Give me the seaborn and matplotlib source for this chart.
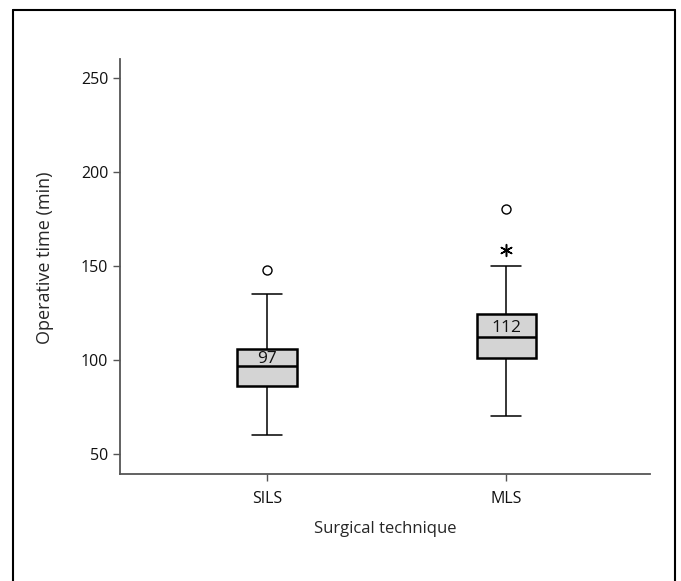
import numpy as np
import pandas as pd
import matplotlib
matplotlib.use("Agg")
import matplotlib.pyplot as plt
from matplotlib.lines import Line2D
import seaborn as sns

# data
techniques = ["SILS", "MLS"]
# sorted samples chosen so quartiles / whisker ends match the picture
sils_times = [60, 80, 86, 90, 97, 100, 106, 120, 135]
mls_times = [70, 95, 101, 105, 112, 118, 124.5, 140, 150]
# outliers drawn separately (SPSS style)
circle_group = ["SILS", "MLS"]
circle_times = [148, 180]
star_group = ["MLS"]
star_times = [158.5]

sns.set_style("white")
plt.rcParams["font.family"] = ["Open Sans", "DejaVu Sans"]

df = pd.DataFrame({
    "technique": ["SILS"] * len(sils_times) + ["MLS"] * len(mls_times),
    "time": sils_times + mls_times,
})

fig = plt.figure(figsize=(6.81, 5.81), dpi=100)
ax = fig.add_axes([120 / 681, 1 - 474 / 581, 530 / 681, 415 / 581])

sns.boxplot(data=df, x="technique", y="time", order=techniques, ax=ax,
            whis=(0, 100), showfliers=False, width=0.25, color="#d4d4d4",
            linecolor="black", linewidth=1.1,
            boxprops={"linewidth": 1.8, "edgecolor": "black", "facecolor": "#d4d4d4"},
            medianprops={"linewidth": 1.8, "color": "black"})

sns.stripplot(x=circle_group, y=circle_times, order=techniques, ax=ax, jitter=False,
              marker="o", size=6.5, color="white", edgecolor="black", linewidth=1)
sns.stripplot(x=star_group, y=star_times, order=techniques, ax=ax, jitter=False,
              marker=(6, 2, 0), size=8.5, color="black", linewidth=1.1)

# median labels in upper half of each box
for i, vals in enumerate([sils_times, mls_times]):
    med = np.percentile(vals, 50)
    q3 = np.percentile(vals, 75)
    ax.text(i, (med + q3) / 2, f"{med:g}", ha="center", va="center_baseline",
            fontsize=12.5, color="#111111")

ax.set_xlim(-0.615, 1.6)
ax.set_ylim(39.3, 260)
ax.set_yticks([50, 100, 150, 200, 250])
ax.set_xlabel("Surgical technique", fontsize=12, labelpad=10)
ax.set_ylabel("Operative time (min)", fontsize=13)
ax.yaxis.set_label_coords(-0.125, 0.52)
ax.tick_params(axis="both", labelsize=11.5, length=5, width=1, color="#555555",
               direction="out", bottom=True, left=True, labelcolor="#111111")
ax.tick_params(axis="x", pad=7)
sns.despine(ax=ax)
for s in ["left", "bottom"]:
    ax.spines[s].set_color("#555555")
    ax.spines[s].set_linewidth(1.3)

# outer frame, open at the bottom
fw, fh = 681, 581
for xs, ys in [([13, 13], [0, 571]), ([13, 675], [571, 571]), ([675, 675], [571, 0])]:
    fig.add_artist(Line2D([x / fw for x in xs], [y / fh for y in ys],
                          color="black", linewidth=1.5, transform=fig.transFigure))

fig.savefig("out.png", dpi=100)
